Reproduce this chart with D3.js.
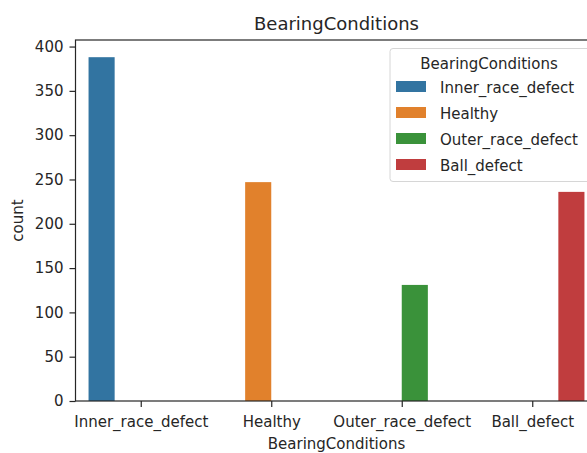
<!DOCTYPE html>
<html>
<head>
<meta charset="utf-8">
<script src="https://cdn.jsdelivr.net/npm/d3@7"></script>
<style>
  html, body { margin: 0; padding: 0; background: #fff; }
  svg { display: block; }
  text { font-family: "DejaVu Sans", sans-serif; }
</style>
</head>
<body>
<svg id="chart" width="587" height="453"></svg>
<script>
const categories = ["Inner_race_defect", "Healthy", "Outer_race_defect", "Ball_defect"];
const hues = ["Inner_race_defect", "Healthy", "Outer_race_defect", "Ball_defect"];
const counts = [388, 247, 131, 236];
const colors = ["#3274a1", "#e1812c", "#3a923a", "#c03d3e"];
const yTicks = [0, 50, 100, 150, 200, 250, 300, 350, 400];

(function () {
const svg = d3.select("#chart");
const mLeft = 75.5, mRight = 597.5, mTop = 40, mBottom = 401;
const textColor = "#262626";

const x = d3.scaleLinear().domain([-0.5, categories.length - 0.5]).range([mLeft, mRight]);
const y = d3.scaleLinear().domain([0, d3.max(counts) * 1.05]).range([mBottom, mTop]);

const barW = 0.8 / hues.length;
const data = categories.map((c, i) => ({ cat: c, ci: i, hi: hues.indexOf(c), v: counts[i] }));

svg.append("g").selectAll("rect").data(data).enter().append("rect")
  .attr("x", d => x(d.ci - 0.4 + d.hi * barW))
  .attr("width", d => x(barW) - x(0))
  .attr("y", d => y(d.v))
  .attr("height", d => y(0) - y(d.v))
  .attr("fill", d => colors[d.hi]);

const yAxis = svg.append("g").attr("transform", `translate(${mLeft},0)`)
  .call(d3.axisLeft(y).tickValues(yTicks).tickSize(6).tickPadding(6).tickSizeOuter(0));
const xAxis = svg.append("g").attr("transform", `translate(0,${mBottom})`)
  .call(d3.axisBottom(x).tickValues(categories.map((c, i) => i)).tickFormat(i => categories[i]).tickSize(6).tickPadding(9).tickSizeOuter(0));
[yAxis, xAxis].forEach(g => {
  g.select(".domain").remove();
  g.selectAll("line").attr("stroke", textColor).attr("stroke-width", 1.2);
  g.selectAll("text").attr("fill", textColor).style("font-size", "15px").style("font-family", "DejaVu Sans");
});

svg.append("rect").attr("x", mLeft).attr("y", mTop).attr("width", mRight - mLeft).attr("height", mBottom - mTop)
  .attr("fill", "none").attr("stroke", textColor).attr("stroke-width", 1.2);

svg.append("text").attr("x", (mLeft + mRight) / 2).attr("y", 30).attr("text-anchor", "middle")
  .attr("fill", textColor).style("font-size", "18px").text("BearingConditions");
svg.append("text").attr("x", (mLeft + mRight) / 2).attr("y", 449).attr("text-anchor", "middle")
  .attr("fill", textColor).style("font-size", "15px").text("BearingConditions");
svg.append("text").attr("transform", `translate(23,${(mTop + mBottom) / 2}) rotate(-90)`).attr("text-anchor", "middle")
  .attr("fill", textColor).style("font-size", "15px").text("count");

const lg = svg.append("g");
lg.append("rect").attr("x", 390).attr("y", 48.5).attr("width", 230).attr("height", 133).attr("rx", 3)
  .attr("fill", "#fff").attr("fill-opacity", 0.8).attr("stroke", "#d6d6d6").attr("stroke-width", 1);
lg.append("text").attr("x", 489).attr("y", 69).attr("text-anchor", "middle")
  .attr("fill", textColor).style("font-size", "15px").text("BearingConditions");
hues.forEach((h, i) => {
  const cy = 86.5 + i * 26;
  lg.append("rect").attr("x", 396).attr("y", cy - 5.5).attr("width", 30).attr("height", 11).attr("fill", colors[i]);
  lg.append("text").attr("x", 440).attr("y", cy + 6).attr("fill", textColor).style("font-size", "15px").text(h);
});
})();
</script>
</body>
</html>
